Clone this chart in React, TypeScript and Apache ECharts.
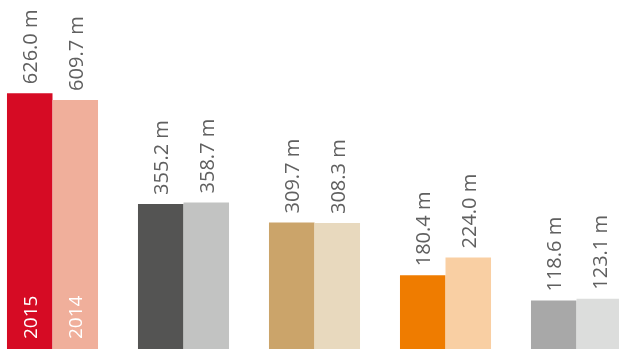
import React, { useEffect, useRef } from "react";
import * as echarts from "echarts";

const categories = ["A", "B", "C", "D", "E"];
const values2015 = [626.0, 355.2, 309.7, 180.4, 118.6];
const values2014 = [609.7, 358.7, 308.3, 224.0, 123.1];
const colors2015 = ["#D60B24", "#545453", "#CBA46A", "#EF7C00", "#A8A8A8"];
const colors2014 = ["#F0AF9B", "#C2C3C2", "#E8D9BE", "#F9CFA3", "#DCDDDC"];
const yearLabels = ["2015", "2014"];

export default function App() {
  const ref = useRef<HTMLDivElement>(null);
  useEffect(() => {
    document.body.style.margin = "0";
    document.body.style.overflow = "hidden";
    const chart = echarts.init(ref.current!, null, { renderer: "svg" });
    const valueLabel = {
      show: true,
      position: "top",
      rotate: 90,
      align: "left",
      verticalAlign: "middle",
      distance: 9,
      fontFamily: "Open Sans",
      fontSize: 20,
      color: "#606060",
      formatter: (p: any) => p.value.toFixed(1) + " m",
    };
    const mk = (vals: number[], cols: string[]) =>
      vals.map((v, i) => ({ value: v, itemStyle: { color: cols[i] } }));
    const yearSeries = (vals: number[], year: string) => ({
      type: "bar",
      xAxisIndex: 1,
      barGap: "0%",
      barCategoryGap: "30.5%",
      silent: true,
      itemStyle: { color: "rgba(0,0,0,0)" },
      data: vals.map((v, i) =>
        i === 0
          ? {
              value: v,
              label: {
                show: true,
                position: "insideBottom",
                rotate: 90,
                align: "left",
                verticalAlign: "middle",
                distance: 10,
                fontFamily: "Open Sans",
                fontSize: 19,
                color: "#ffffff",
                formatter: year,
              },
            }
          : { value: v }
      ),
    });
    chart.setOption({
      animation: false,
      grid: { left: 0, right: 0, top: 63, bottom: 0 },
      xAxis: [
        { type: "category", data: categories, show: false },
        { type: "category", data: categories, show: false },
      ],
      yAxis: { type: "value", min: 0, max: 700, show: false },
      series: [
        {
          type: "bar",
          barGap: "0%",
          barCategoryGap: "30.5%",
          data: mk(values2015, colors2015),
          label: valueLabel,
        },
        {
          type: "bar",
          barGap: "0%",
          barCategoryGap: "30.5%",
          data: mk(values2014, colors2014),
          label: valueLabel,
        },
        yearSeries(values2015, yearLabels[0]),
        yearSeries(values2014, yearLabels[1]),
      ],
    });
    return () => chart.dispose();
  }, []);
  return (
    <div style={{ position: "fixed", left: 0, top: 0, width: 619, height: 349, overflow: "hidden" }}>
      <div ref={ref} style={{ position: "absolute", left: -13, top: 0, width: 655, height: 349 }} />
    </div>
  );
}
